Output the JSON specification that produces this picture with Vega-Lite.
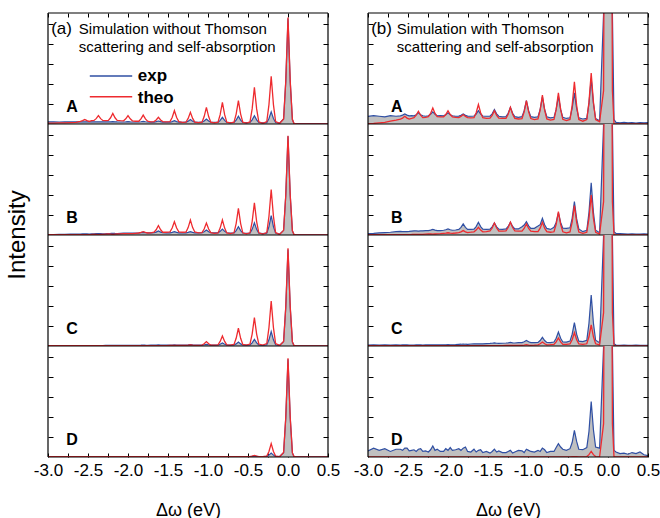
{
"$schema": "https://vega.github.io/schema/vega-lite/v6.json",
"padding": {"left": 5, "right": 0, "top": 12, "bottom": 0},
"bounds": "flush",
"config": {
  "font": "Liberation Sans",
  "view": {"stroke": null},
  "axis": {"domain": false, "tickColor": "#000", "labelColor": "#000", "titleColor": "#000", "grid": false, "offset": 0}
},
"datasets": {
"keys": [
 {"key": "aAe", "col": "a", "row": "A", "s": "exp"}, {"key": "aAt", "col": "a", "row": "A", "s": "theo"},
 {"key": "aBe", "col": "a", "row": "B", "s": "exp"}, {"key": "aBt", "col": "a", "row": "B", "s": "theo"},
 {"key": "aCe", "col": "a", "row": "C", "s": "exp"}, {"key": "aCt", "col": "a", "row": "C", "s": "theo"},
 {"key": "aDe", "col": "a", "row": "D", "s": "exp"}, {"key": "aDt", "col": "a", "row": "D", "s": "theo"},
 {"key": "bAe", "col": "b", "row": "A", "s": "exp"}, {"key": "bAt", "col": "b", "row": "A", "s": "theo"},
 {"key": "bBe", "col": "b", "row": "B", "s": "exp"}, {"key": "bBt", "col": "b", "row": "B", "s": "theo"},
 {"key": "bCe", "col": "b", "row": "C", "s": "exp"}, {"key": "bCt", "col": "b", "row": "C", "s": "theo"},
 {"key": "bDe", "col": "b", "row": "D", "s": "exp"}, {"key": "bDt", "col": "b", "row": "D", "s": "theo"}
],
"curves": [
{"x":0.5,"aAe":0.003,"aAt":0.002,"aBe":0.002,"aBt":0.002,"aCe":0.002,"aCt":0.002,"aDe":0.002,"aDt":0.002,"bAe":0.012,"bAt":0.002,"bBe":0.008,"bBt":0.002,"bCe":0.006,"bCt":0.002,"bDe":0.012,"bDt":0.002},
{"x":0.45,"aAe":0.003,"aAt":0.002,"aBe":0.002,"aBt":0.002,"aCe":0.002,"aCt":0.002,"aDe":0.002,"aDt":0.002,"bAe":0.01,"bAt":0.002,"bBe":0.01,"bBt":0.002,"bCe":0.005,"bCt":0.002,"bDe":0.02,"bDt":0.002},
{"x":0.4,"aAe":0.003,"aAt":0.002,"aBe":0.002,"aBt":0.002,"aCe":0.002,"aCt":0.002,"aDe":0.002,"aDt":0.002,"bAe":0.013,"bAt":0.002,"bBe":0.008,"bBt":0.002,"bCe":0.006,"bCt":0.002,"bDe":0.045,"bDt":0.002},
{"x":0.35,"aAe":0.003,"aAt":0.002,"aBe":0.002,"aBt":0.002,"aCe":0.002,"aCt":0.002,"aDe":0.002,"aDt":0.002,"bAe":0.009,"bAt":0.002,"bBe":0.009,"bBt":0.002,"bCe":0.007,"bCt":0.002,"bDe":0.03,"bDt":0.002},
{"x":0.3,"aAe":0.003,"aAt":0.002,"aBe":0.002,"aBt":0.002,"aCe":0.002,"aCt":0.002,"aDe":0.002,"aDt":0.002,"bAe":0.012,"bAt":0.002,"bBe":0.01,"bBt":0.002,"bCe":0.005,"bCt":0.002,"bDe":0.04,"bDt":0.002},
{"x":0.25,"aAe":0.003,"aAt":0.002,"aBe":0.002,"aBt":0.002,"aCe":0.002,"aCt":0.002,"aDe":0.002,"aDt":0.002,"bAe":0.01,"bAt":0.002,"bBe":0.008,"bBt":0.002,"bCe":0.006,"bCt":0.002,"bDe":0.025,"bDt":0.002},
{"x":0.2,"aAe":0.003,"aAt":0.002,"aBe":0.002,"aBt":0.002,"aCe":0.002,"aCt":0.002,"aDe":0.002,"aDt":0.002,"bAe":0.014,"bAt":0.002,"bBe":0.01,"bBt":0.002,"bCe":0.007,"bCt":0.002,"bDe":0.035,"bDt":0.002},
{"x":0.15,"aAe":0.003,"aAt":0.002,"aBe":0.002,"aBt":0.002,"aCe":0.002,"aCt":0.002,"aDe":0.002,"aDt":0.002,"bAe":0.011,"bAt":0.002,"bBe":0.012,"bBt":0.002,"bCe":0.006,"bCt":0.002,"bDe":0.03,"bDt":0.002},
{"x":0.1,"aAe":0.004,"aAt":0.003,"aBe":0.003,"aBt":0.003,"aCe":0.003,"aCt":0.003,"aDe":0.003,"aDt":0.003,"bAe":0.015,"bAt":0.002,"bBe":0.014,"bBt":0.002,"bCe":0.008,"bCt":0.002,"bDe":0.045,"bDt":0.002},
{"x":0.075,"aAe":0.005,"aAt":0.004,"aBe":0.004,"aBt":0.004,"aCe":0.004,"aCt":0.004,"aDe":0.004,"aDt":0.004,"bAe":0.04,"bAt":0.003,"bBe":0.03,"bBt":0.003,"bCe":0.02,"bCt":0.003,"bDe":0.06,"bDt":0.003},
{"x":0.055,"aAe":0.04,"aAt":0.04,"aBe":0.037,"aBt":0.038,"aCe":0.036,"aCt":0.037,"aDe":0.037,"aDt":0.037,"bAe":1.0,"bAt":0.3,"bBe":1.0,"bBt":0.3,"bCe":1.0,"bCt":0.3,"bDe":1.0,"bDt":0.3},
{"x":0.028,"aAe":0.38,"aAt":0.385,"aBe":0.356,"aBt":0.358,"aCe":0.348,"aCt":0.352,"aDe":0.352,"aDt":0.356,"bAe":10,"bAt":6,"bBe":10,"bBt":6,"bCe":10,"bCt":6,"bDe":10,"bDt":6},
{"x":0,"aAe":0.95,"aAt":0.96,"aBe":0.89,"aBt":0.895,"aCe":0.87,"aCt":0.88,"aDe":0.88,"aDt":0.89,"bAe":30,"bAt":30,"bBe":30,"bBt":30,"bCe":30,"bCt":30,"bDe":30,"bDt":30},
{"x":-0.028,"aAe":0.38,"aAt":0.385,"aBe":0.356,"aBt":0.358,"aCe":0.348,"aCt":0.352,"aDe":0.352,"aDt":0.356,"bAe":10,"bAt":6,"bBe":10,"bBt":6,"bCe":10,"bCt":6,"bDe":10,"bDt":6},
{"x":-0.055,"aAe":0.045,"aAt":0.045,"aBe":0.042,"aBt":0.042,"aCe":0.04,"aCt":0.04,"aDe":0.038,"aDt":0.04,"bAe":1.0,"bAt":0.3,"bBe":1.0,"bBt":0.3,"bCe":1.0,"bCt":0.3,"bDe":1.0,"bDt":0.3},
{"x":-0.105,"aAe":0.008,"aAt":0.005,"aBe":0.008,"aBt":0.005,"aCe":0.005,"aCt":0.005,"aDe":0.004,"aDt":0.003,"bAe":0.03,"bAt":0.02,"bBe":0.02,"bBt":0.008,"bCe":0.03,"bCt":0.01,"bDe":0.08,"bDt":0.002},
{"x":-0.155,"aAe":0.013,"aAt":0.022,"aBe":0.017,"aBt":0.022,"aCe":0.011,"aCt":0.022,"aDe":0.005,"aDt":0.008,"bAe":0.05,"bAt":0.04,"bBe":0.043,"bBt":0.024,"bCe":0.052,"bCt":0.02,"bDe":0.09,"bDt":0.004},
{"x":-0.182,"aAe":0.049,"aAt":0.175,"aBe":0.076,"aBt":0.168,"aCe":0.056,"aCt":0.166,"aDe":0.017,"aDt":0.05,"bAe":0.185,"bAt":0.197,"bBe":0.203,"bBt":0.15,"bCe":0.205,"bCt":0.083,"bDe":0.245,"bDt":0.021},
{"x":-0.21,"aAe":0.11,"aAt":0.43,"aBe":0.175,"aBt":0.41,"aCe":0.13,"aCt":0.405,"aDe":0.036,"aDt":0.12,"bAe":0.41,"bAt":0.46,"bBe":0.47,"bBt":0.36,"bCe":0.46,"bCt":0.19,"bDe":0.5,"bDt":0.05},
{"x":-0.238,"aAe":0.049,"aAt":0.175,"aBe":0.076,"aBt":0.168,"aCe":0.056,"aCt":0.166,"aDe":0.017,"aDt":0.05,"bAe":0.185,"bAt":0.197,"bBe":0.203,"bBt":0.15,"bCe":0.205,"bCt":0.083,"bDe":0.23,"bDt":0.021},
{"x":-0.265,"aAe":0.013,"aAt":0.022,"aBe":0.017,"aBt":0.022,"aCe":0.011,"aCt":0.022,"aDe":0.005,"aDt":0.008,"bAe":0.05,"bAt":0.04,"bBe":0.043,"bBt":0.024,"bCe":0.052,"bCt":0.02,"bDe":0.085,"bDt":0.004},
{"x":-0.315,"aAe":0.01,"aAt":0.005,"aBe":0.012,"aBt":0.008,"aCe":0.006,"aCt":0.008,"aDe":0.004,"aDt":0.003,"bAe":0.045,"bAt":0.025,"bBe":0.03,"bBt":0.015,"bCe":0.04,"bCt":0.015,"bDe":0.066,"bDt":0.002},
{"x":-0.365,"aAe":0.014,"aAt":0.019,"aBe":0.017,"aBt":0.02,"aCe":0.009,"aCt":0.018,"aDe":0.004,"aDt":0.004,"bAe":0.056,"bAt":0.041,"bBe":0.055,"bBt":0.027,"bCe":0.044,"bCt":0.019,"bDe":0.07,"bDt":0.002},
{"x":-0.392,"aAe":0.037,"aAt":0.136,"aBe":0.051,"aBt":0.121,"aCe":0.028,"aCt":0.107,"aDe":0.006,"aDt":0.008,"bAe":0.14,"bAt":0.168,"bBe":0.147,"bBt":0.116,"bCe":0.106,"bCt":0.057,"bDe":0.14,"bDt":0.003},
{"x":-0.42,"aAe":0.075,"aAt":0.33,"aBe":0.11,"aBt":0.29,"aCe":0.06,"aCt":0.255,"aDe":0.008,"aDt":0.015,"bAe":0.28,"bAt":0.38,"bBe":0.3,"bBt":0.265,"bCe":0.21,"bCt":0.12,"bDe":0.24,"bDt":0.003},
{"x":-0.448,"aAe":0.037,"aAt":0.136,"aBe":0.051,"aBt":0.121,"aCe":0.028,"aCt":0.107,"aDe":0.006,"aDt":0.008,"bAe":0.14,"bAt":0.168,"bBe":0.15,"bBt":0.116,"bCe":0.106,"bCt":0.057,"bDe":0.13,"bDt":0.003},
{"x":-0.475,"aAe":0.014,"aAt":0.019,"aBe":0.017,"aBt":0.02,"aCe":0.009,"aCt":0.018,"aDe":0.004,"aDt":0.004,"bAe":0.056,"bAt":0.041,"bBe":0.065,"bBt":0.027,"bCe":0.044,"bCt":0.019,"bDe":0.075,"bDt":0.002},
{"x":-0.52,"aAe":0.012,"aAt":0.008,"aBe":0.015,"aBt":0.01,"aCe":0.008,"aCt":0.008,"aDe":0.004,"aDt":0.003,"bAe":0.05,"bAt":0.03,"bBe":0.06,"bBt":0.02,"bCe":0.035,"bCt":0.015,"bDe":0.06,"bDt":0.002},
{"x":-0.565,"aAe":0.015,"aAt":0.017,"aBe":0.018,"aBt":0.02,"aCe":0.009,"aCt":0.014,"aDe":0.004,"aDt":0.003,"bAe":0.06,"bAt":0.042,"bBe":0.061,"bBt":0.029,"bCe":0.036,"bCt":0.015,"bDe":0.07,"bDt":0.002},
{"x":-0.592,"aAe":0.035,"aAt":0.089,"aBe":0.04,"aBt":0.103,"aCe":0.019,"aCt":0.069,"aDe":0.004,"aDt":0.003,"bAe":0.131,"bAt":0.131,"bBe":0.113,"bBt":0.097,"bCe":0.07,"bCt":0.037,"bDe":0.09,"bDt":0.002},
{"x":-0.62,"aAe":0.07,"aAt":0.21,"aBe":0.075,"aBt":0.24,"aCe":0.036,"aCt":0.16,"aDe":0.004,"aDt":0.003,"bAe":0.25,"bAt":0.28,"bBe":0.2,"bBt":0.21,"bCe":0.126,"bCt":0.072,"bDe":0.12,"bDt":0.002},
{"x":-0.648,"aAe":0.035,"aAt":0.089,"aBe":0.04,"aBt":0.103,"aCe":0.019,"aCt":0.069,"aDe":0.004,"aDt":0.003,"bAe":0.131,"bAt":0.131,"bBe":0.113,"bBt":0.097,"bCe":0.07,"bCt":0.037,"bDe":0.085,"bDt":0.002},
{"x":-0.675,"aAe":0.015,"aAt":0.017,"aBe":0.018,"aBt":0.02,"aCe":0.009,"aCt":0.014,"aDe":0.004,"aDt":0.003,"bAe":0.06,"bAt":0.042,"bBe":0.07,"bBt":0.029,"bCe":0.036,"bCt":0.015,"bDe":0.05,"bDt":0.002},
{"x":-0.72,"aAe":0.013,"aAt":0.01,"aBe":0.018,"aBt":0.012,"aCe":0.008,"aCt":0.008,"aDe":0.004,"aDt":0.003,"bAe":0.055,"bAt":0.035,"bBe":0.05,"bBt":0.025,"bCe":0.03,"bCt":0.012,"bDe":0.05,"bDt":0.002},
{"x":-0.765,"aAe":0.015,"aAt":0.017,"aBe":0.02,"aBt":0.018,"aCe":0.009,"aCt":0.011,"aDe":0.004,"aDt":0.003,"bAe":0.065,"bAt":0.046,"bBe":0.059,"bBt":0.031,"bCe":0.032,"bCt":0.011,"bDe":0.04,"bDt":0.002},
{"x":-0.792,"aAe":0.032,"aAt":0.084,"aBe":0.033,"aBt":0.062,"aCe":0.016,"aCt":0.041,"aDe":0.004,"aDt":0.003,"bAe":0.132,"bAt":0.126,"bBe":0.093,"bBt":0.062,"bCe":0.049,"bCt":0.02,"bDe":0.065,"bDt":0.002},
{"x":-0.82,"aAe":0.06,"aAt":0.195,"aBe":0.054,"aBt":0.135,"aCe":0.027,"aCt":0.09,"aDe":0.004,"aDt":0.003,"bAe":0.245,"bAt":0.26,"bBe":0.15,"bBt":0.115,"bCe":0.078,"bCt":0.036,"bDe":0.08,"bDt":0.002},
{"x":-0.848,"aAe":0.032,"aAt":0.084,"aBe":0.033,"aBt":0.062,"aCe":0.016,"aCt":0.041,"aDe":0.004,"aDt":0.003,"bAe":0.132,"bAt":0.126,"bBe":0.093,"bBt":0.062,"bCe":0.049,"bCt":0.02,"bDe":0.05,"bDt":0.002},
{"x":-0.875,"aAe":0.015,"aAt":0.017,"aBe":0.02,"aBt":0.018,"aCe":0.009,"aCt":0.011,"aDe":0.004,"aDt":0.003,"bAe":0.065,"bAt":0.046,"bBe":0.08,"bBt":0.031,"bCe":0.032,"bCt":0.011,"bDe":0.06,"bDt":0.002},
{"x":-0.92,"aAe":0.014,"aAt":0.01,"aBe":0.02,"aBt":0.015,"aCe":0.008,"aCt":0.008,"aDe":0.004,"aDt":0.003,"bAe":0.06,"bAt":0.04,"bBe":0.06,"bBt":0.03,"bCe":0.03,"bCt":0.008,"bDe":0.045,"bDt":0.002},
{"x":-0.965,"aAe":0.016,"aAt":0.017,"aBe":0.021,"aBt":0.021,"aCe":0.008,"aCt":0.008,"aDe":0.004,"aDt":0.003,"bAe":0.066,"bAt":0.049,"bBe":0.06,"bBt":0.035,"bCe":0.031,"bCt":0.006,"bDe":0.05,"bDt":0.002},
{"x":-0.992,"aAe":0.027,"aAt":0.067,"aBe":0.03,"aBt":0.054,"aCe":0.011,"aCt":0.02,"aDe":0.004,"aDt":0.003,"bAe":0.12,"bAt":0.109,"bBe":0.082,"bBt":0.059,"bCe":0.038,"bCt":0.008,"bDe":0.06,"bDt":0.002},
{"x":-1.02,"aAe":0.045,"aAt":0.15,"aBe":0.045,"aBt":0.108,"aCe":0.015,"aCt":0.04,"aDe":0.004,"aDt":0.003,"bAe":0.21,"bAt":0.21,"bBe":0.12,"bBt":0.1,"bCe":0.05,"bCt":0.012,"bDe":0.07,"bDt":0.002},
{"x":-1.048,"aAe":0.027,"aAt":0.067,"aBe":0.03,"aBt":0.054,"aCe":0.011,"aCt":0.02,"aDe":0.004,"aDt":0.003,"bAe":0.12,"bAt":0.109,"bBe":0.09,"bBt":0.059,"bCe":0.038,"bCt":0.008,"bDe":0.04,"bDt":0.002},
{"x":-1.075,"aAe":0.016,"aAt":0.017,"aBe":0.021,"aBt":0.021,"aCe":0.008,"aCt":0.008,"aDe":0.004,"aDt":0.003,"bAe":0.066,"bAt":0.049,"bBe":0.075,"bBt":0.035,"bCe":0.031,"bCt":0.006,"bDe":0.055,"bDt":0.002},
{"x":-1.12,"aAe":0.015,"aAt":0.012,"aBe":0.02,"aBt":0.02,"aCe":0.008,"aCt":0.006,"aDe":0.004,"aDt":0.003,"bAe":0.06,"bAt":0.045,"bBe":0.055,"bBt":0.035,"bCe":0.03,"bCt":0.005,"bDe":0.06,"bDt":0.002},
{"x":-1.165,"aAe":0.016,"aAt":0.017,"aBe":0.02,"aBt":0.027,"aCe":0.008,"aCt":0.006,"aDe":0.004,"aDt":0.003,"bAe":0.066,"bAt":0.051,"bBe":0.055,"bBt":0.038,"bCe":0.027,"bCt":0.0045,"bDe":0.045,"bDt":0.002},
{"x":-1.192,"aAe":0.025,"aAt":0.05,"aBe":0.024,"aBt":0.067,"aCe":0.0096,"aCt":0.007,"aDe":0.004,"aDt":0.003,"bAe":0.097,"bAt":0.088,"bBe":0.077,"bBt":0.067,"bCe":0.029,"bCt":0.0047,"bDe":0.035,"bDt":0.002},
{"x":-1.22,"aAe":0.04,"aAt":0.105,"aBe":0.03,"aBt":0.135,"aCe":0.012,"aCt":0.01,"aDe":0.004,"aDt":0.003,"bAe":0.15,"bAt":0.15,"bBe":0.115,"bBt":0.115,"bCe":0.032,"bCt":0.005,"bDe":0.06,"bDt":0.002},
{"x":-1.248,"aAe":0.025,"aAt":0.05,"aBe":0.024,"aBt":0.067,"aCe":0.0096,"aCt":0.007,"aDe":0.004,"aDt":0.003,"bAe":0.097,"bAt":0.088,"bBe":0.077,"bBt":0.067,"bCe":0.029,"bCt":0.0047,"bDe":0.05,"bDt":0.002},
{"x":-1.275,"aAe":0.016,"aAt":0.017,"aBe":0.02,"aBt":0.027,"aCe":0.008,"aCt":0.006,"aDe":0.004,"aDt":0.003,"bAe":0.066,"bAt":0.051,"bBe":0.055,"bBt":0.038,"bCe":0.027,"bCt":0.0045,"bDe":0.04,"bDt":0.002},
{"x":-1.32,"aAe":0.015,"aAt":0.015,"aBe":0.02,"aBt":0.025,"aCe":0.008,"aCt":0.005,"aDe":0.004,"aDt":0.003,"bAe":0.065,"bAt":0.05,"bBe":0.05,"bBt":0.035,"bCe":0.025,"bCt":0.004,"bDe":0.04,"bDt":0.002},
{"x":-1.365,"aAe":0.016,"aAt":0.022,"aBe":0.02,"aBt":0.029,"aCe":0.008,"aCt":0.0045,"aDe":0.004,"aDt":0.003,"bAe":0.07,"bAt":0.053,"bBe":0.052,"bBt":0.036,"bCe":0.023,"bCt":0.003,"bDe":0.055,"bDt":0.002},
{"x":-1.392,"aAe":0.021,"aAt":0.058,"aBe":0.024,"aBt":0.063,"aCe":0.009,"aCt":0.0047,"aDe":0.004,"aDt":0.003,"bAe":0.092,"bAt":0.078,"bBe":0.073,"bBt":0.063,"bCe":0.025,"bCt":0.003,"bDe":0.045,"bDt":0.002},
{"x":-1.42,"aAe":0.03,"aAt":0.12,"aBe":0.03,"aBt":0.12,"aCe":0.01,"aCt":0.005,"aDe":0.004,"aDt":0.003,"bAe":0.13,"bAt":0.12,"bBe":0.108,"bBt":0.108,"bCe":0.028,"bCt":0.003,"bDe":0.07,"bDt":0.002},
{"x":-1.448,"aAe":0.021,"aAt":0.058,"aBe":0.024,"aBt":0.063,"aCe":0.009,"aCt":0.0047,"aDe":0.004,"aDt":0.003,"bAe":0.092,"bAt":0.078,"bBe":0.073,"bBt":0.063,"bCe":0.025,"bCt":0.003,"bDe":0.05,"bDt":0.002},
{"x":-1.475,"aAe":0.016,"aAt":0.022,"aBe":0.02,"aBt":0.029,"aCe":0.008,"aCt":0.0045,"aDe":0.004,"aDt":0.003,"bAe":0.07,"bAt":0.053,"bBe":0.052,"bBt":0.036,"bCe":0.023,"bCt":0.003,"bDe":0.035,"bDt":0.002},
{"x":-1.52,"aAe":0.016,"aAt":0.02,"aBe":0.02,"aBt":0.025,"aCe":0.008,"aCt":0.004,"aDe":0.004,"aDt":0.003,"bAe":0.07,"bAt":0.05,"bBe":0.05,"bBt":0.03,"bCe":0.022,"bCt":0.003,"bDe":0.05,"bDt":0.002},
{"x":-1.565,"aAe":0.017,"aAt":0.022,"aBe":0.021,"aBt":0.025,"aCe":0.0075,"aCt":0.004,"aDe":0.004,"aDt":0.003,"bAe":0.072,"bAt":0.057,"bBe":0.053,"bBt":0.029,"bCe":0.02,"bCt":0.003,"bDe":0.04,"bDt":0.002},
{"x":-1.592,"aAe":0.021,"aAt":0.036,"aBe":0.026,"aBt":0.047,"aCe":0.0085,"aCt":0.004,"aDe":0.004,"aDt":0.003,"bAe":0.09,"bAt":0.101,"bBe":0.076,"bBt":0.044,"bCe":0.02,"bCt":0.003,"bDe":0.065,"bDt":0.002},
{"x":-1.62,"aAe":0.027,"aAt":0.06,"aBe":0.036,"aBt":0.085,"aCe":0.01,"aCt":0.004,"aDe":0.004,"aDt":0.003,"bAe":0.12,"bAt":0.175,"bBe":0.115,"bBt":0.07,"bCe":0.02,"bCt":0.003,"bDe":0.06,"bDt":0.002},
{"x":-1.648,"aAe":0.021,"aAt":0.036,"aBe":0.026,"aBt":0.047,"aCe":0.0085,"aCt":0.004,"aDe":0.004,"aDt":0.003,"bAe":0.09,"bAt":0.101,"bBe":0.076,"bBt":0.044,"bCe":0.02,"bCt":0.003,"bDe":0.045,"bDt":0.002},
{"x":-1.675,"aAe":0.017,"aAt":0.022,"aBe":0.021,"aBt":0.025,"aCe":0.0075,"aCt":0.004,"aDe":0.004,"aDt":0.003,"bAe":0.072,"bAt":0.057,"bBe":0.053,"bBt":0.029,"bCe":0.02,"bCt":0.003,"bDe":0.07,"bDt":0.002},
{"x":-1.715,"aAe":0.017,"aAt":0.02,"aBe":0.02,"aBt":0.02,"aCe":0.007,"aCt":0.004,"aDe":0.004,"aDt":0.003,"bAe":0.07,"bAt":0.055,"bBe":0.05,"bBt":0.025,"bCe":0.018,"bCt":0.003,"bDe":0.045,"bDt":0.002},
{"x":-1.755,"aAe":0.018,"aAt":0.025,"aBe":0.019,"aBt":0.018,"aCe":0.0066,"aCt":0.003,"aDe":0.004,"aDt":0.003,"bAe":0.071,"bAt":0.058,"bBe":0.05,"bBt":0.022,"bCe":0.015,"bCt":0.003,"bDe":0.05,"bDt":0.002},
{"x":-1.782,"aAe":0.02,"aAt":0.046,"aBe":0.021,"aBt":0.023,"aCe":0.007,"aCt":0.003,"aDe":0.004,"aDt":0.003,"bAe":0.078,"bAt":0.068,"bBe":0.069,"bBt":0.029,"bCe":0.016,"bCt":0.003,"bDe":0.09,"bDt":0.002},
{"x":-1.81,"aAe":0.024,"aAt":0.08,"aBe":0.024,"aBt":0.03,"aCe":0.008,"aCt":0.003,"aDe":0.004,"aDt":0.003,"bAe":0.09,"bAt":0.085,"bBe":0.1,"bBt":0.04,"bCe":0.018,"bCt":0.003,"bDe":0.08,"bDt":0.002},
{"x":-1.838,"aAe":0.02,"aAt":0.046,"aBe":0.021,"aBt":0.023,"aCe":0.007,"aCt":0.003,"aDe":0.004,"aDt":0.003,"bAe":0.078,"bAt":0.068,"bBe":0.069,"bBt":0.029,"bCe":0.016,"bCt":0.003,"bDe":0.06,"bDt":0.002},
{"x":-1.865,"aAe":0.018,"aAt":0.025,"aBe":0.019,"aBt":0.018,"aCe":0.0066,"aCt":0.003,"aDe":0.004,"aDt":0.003,"bAe":0.071,"bAt":0.058,"bBe":0.05,"bBt":0.022,"bCe":0.015,"bCt":0.003,"bDe":0.075,"bDt":0.002},
{"x":-1.905,"aAe":0.018,"aAt":0.025,"aBe":0.018,"aBt":0.015,"aCe":0.006,"aCt":0.003,"aDe":0.004,"aDt":0.003,"bAe":0.07,"bAt":0.06,"bBe":0.045,"bBt":0.018,"bCe":0.012,"bCt":0.003,"bDe":0.065,"bDt":0.002},
{"x":-1.945,"aAe":0.018,"aAt":0.029,"aBe":0.0166,"aBt":0.0125,"aCe":0.0055,"aCt":0.003,"aDe":0.004,"aDt":0.003,"bAe":0.074,"bAt":0.065,"bBe":0.043,"bBt":0.015,"bCe":0.011,"bCt":0.003,"bDe":0.06,"bDt":0.002},
{"x":-1.972,"aAe":0.0196,"aAt":0.0465,"aBe":0.017,"aBt":0.0123,"aCe":0.0057,"aCt":0.003,"aDe":0.004,"aDt":0.003,"bAe":0.083,"bAt":0.085,"bBe":0.047,"bBt":0.017,"bCe":0.0114,"bCt":0.003,"bDe":0.085,"bDt":0.002},
{"x":-2.0,"aAe":0.022,"aAt":0.075,"aBe":0.018,"aBt":0.012,"aCe":0.006,"aCt":0.003,"aDe":0.004,"aDt":0.003,"bAe":0.1,"bAt":0.12,"bBe":0.055,"bBt":0.02,"bCe":0.012,"bCt":0.003,"bDe":0.06,"bDt":0.002},
{"x":-2.028,"aAe":0.0196,"aAt":0.0465,"aBe":0.017,"aBt":0.0123,"aCe":0.0057,"aCt":0.003,"aDe":0.004,"aDt":0.003,"bAe":0.083,"bAt":0.085,"bBe":0.047,"bBt":0.017,"bCe":0.0114,"bCt":0.003,"bDe":0.075,"bDt":0.002},
{"x":-2.055,"aAe":0.018,"aAt":0.029,"aBe":0.0166,"aBt":0.0125,"aCe":0.0055,"aCt":0.003,"aDe":0.004,"aDt":0.003,"bAe":0.074,"bAt":0.065,"bBe":0.043,"bBt":0.015,"bCe":0.011,"bCt":0.003,"bDe":0.05,"bDt":0.002},
{"x":-2.095,"aAe":0.018,"aAt":0.03,"aBe":0.015,"aBt":0.01,"aCe":0.005,"aCt":0.003,"aDe":0.004,"aDt":0.003,"bAe":0.075,"bAt":0.065,"bBe":0.04,"bBt":0.012,"bCe":0.01,"bCt":0.003,"bDe":0.05,"bDt":0.002},
{"x":-2.135,"aAe":0.0186,"aAt":0.033,"aBe":0.0136,"aBt":0.009,"aCe":0.005,"aCt":0.003,"aDe":0.004,"aDt":0.003,"bAe":0.074,"bAt":0.066,"bBe":0.04,"bBt":0.01,"bCe":0.01,"bCt":0.003,"bDe":0.07,"bDt":0.002},
{"x":-2.162,"aAe":0.02,"aAt":0.056,"aBe":0.014,"aBt":0.0074,"aCe":0.005,"aCt":0.003,"aDe":0.004,"aDt":0.003,"bAe":0.0875,"bAt":0.0955,"bBe":0.044,"bBt":0.009,"bCe":0.01,"bCt":0.003,"bDe":0.06,"bDt":0.002},
{"x":-2.19,"aAe":0.022,"aAt":0.096,"aBe":0.015,"aBt":0.005,"aCe":0.005,"aCt":0.003,"aDe":0.004,"aDt":0.003,"bAe":0.11,"bAt":0.145,"bBe":0.05,"bBt":0.008,"bCe":0.01,"bCt":0.003,"bDe":0.1,"bDt":0.002},
{"x":-2.218,"aAe":0.02,"aAt":0.056,"aBe":0.014,"aBt":0.0074,"aCe":0.005,"aCt":0.003,"aDe":0.004,"aDt":0.003,"bAe":0.0875,"bAt":0.0955,"bBe":0.044,"bBt":0.009,"bCe":0.01,"bCt":0.003,"bDe":0.065,"bDt":0.002},
{"x":-2.245,"aAe":0.0186,"aAt":0.033,"aBe":0.0136,"aBt":0.009,"aCe":0.005,"aCt":0.003,"aDe":0.004,"aDt":0.003,"bAe":0.074,"bAt":0.066,"bBe":0.04,"bBt":0.01,"bCe":0.01,"bCt":0.003,"bDe":0.045,"bDt":0.002},
{"x":-2.28,"aAe":0.019,"aAt":0.03,"aBe":0.012,"aBt":0.008,"aCe":0.005,"aCt":0.003,"aDe":0.004,"aDt":0.003,"bAe":0.07,"bAt":0.06,"bBe":0.04,"bBt":0.008,"bCe":0.01,"bCt":0.003,"bDe":0.055,"bDt":0.002},
{"x":-2.315,"aAe":0.0195,"aAt":0.032,"aBe":0.011,"aBt":0.0065,"aCe":0.004,"aCt":0.003,"aDe":0.004,"aDt":0.003,"bAe":0.074,"bAt":0.057,"bBe":0.0375,"bBt":0.0065,"bCe":0.009,"bCt":0.003,"bDe":0.05,"bDt":0.002},
{"x":-2.342,"aAe":0.02,"aAt":0.048,"aBe":0.0115,"aBt":0.0055,"aCe":0.004,"aCt":0.003,"aDe":0.004,"aDt":0.003,"bAe":0.083,"bAt":0.079,"bBe":0.0365,"bBt":0.006,"bCe":0.0094,"bCt":0.003,"bDe":0.075,"bDt":0.002},
{"x":-2.37,"aAe":0.02,"aAt":0.075,"aBe":0.012,"aBt":0.004,"aCe":0.004,"aCt":0.003,"aDe":0.004,"aDt":0.003,"bAe":0.1,"bAt":0.115,"bBe":0.035,"bBt":0.005,"bCe":0.01,"bCt":0.003,"bDe":0.07,"bDt":0.002},
{"x":-2.398,"aAe":0.02,"aAt":0.048,"aBe":0.0115,"aBt":0.0055,"aCe":0.004,"aCt":0.003,"aDe":0.004,"aDt":0.003,"bAe":0.083,"bAt":0.079,"bBe":0.0365,"bBt":0.006,"bCe":0.0094,"bCt":0.003,"bDe":0.05,"bDt":0.002},
{"x":-2.425,"aAe":0.0195,"aAt":0.032,"aBe":0.011,"aBt":0.0065,"aCe":0.004,"aCt":0.003,"aDe":0.004,"aDt":0.003,"bAe":0.074,"bAt":0.057,"bBe":0.0375,"bBt":0.0065,"bCe":0.009,"bCt":0.003,"bDe":0.065,"bDt":0.002},
{"x":-2.455,"aAe":0.02,"aAt":0.03,"aBe":0.01,"aBt":0.005,"aCe":0.004,"aCt":0.003,"aDe":0.004,"aDt":0.003,"bAe":0.075,"bAt":0.05,"bBe":0.035,"bBt":0.005,"bCe":0.008,"bCt":0.003,"bDe":0.06,"bDt":0.002},
{"x":-2.485,"aAe":0.02,"aAt":0.023,"aBe":0.009,"aBt":0.004,"aCe":0.004,"aCt":0.003,"aDe":0.004,"aDt":0.003,"bAe":0.073,"bAt":0.044,"bBe":0.032,"bBt":0.004,"bCe":0.009,"bCt":0.003,"bDe":0.055,"bDt":0.002},
{"x":-2.512,"aAe":0.02,"aAt":0.03,"aBe":0.0095,"aBt":0.0035,"aCe":0.004,"aCt":0.003,"aDe":0.004,"aDt":0.003,"bAe":0.08,"bAt":0.053,"bBe":0.031,"bBt":0.004,"bCe":0.0095,"bCt":0.003,"bDe":0.08,"bDt":0.002},
{"x":-2.54,"aAe":0.02,"aAt":0.04,"aBe":0.01,"aBt":0.003,"aCe":0.004,"aCt":0.003,"aDe":0.004,"aDt":0.003,"bAe":0.09,"bAt":0.07,"bBe":0.03,"bBt":0.004,"bCe":0.01,"bCt":0.003,"bDe":0.08,"bDt":0.002},
{"x":-2.568,"aAe":0.02,"aAt":0.03,"aBe":0.0095,"aBt":0.003,"aCe":0.004,"aCt":0.003,"aDe":0.004,"aDt":0.003,"bAe":0.08,"bAt":0.053,"bBe":0.031,"bBt":0.004,"bCe":0.0095,"bCt":0.003,"bDe":0.06,"bDt":0.002},
{"x":-2.595,"aAe":0.02,"aAt":0.023,"aBe":0.009,"aBt":0.003,"aCe":0.004,"aCt":0.003,"aDe":0.004,"aDt":0.003,"bAe":0.073,"bAt":0.044,"bBe":0.032,"bBt":0.004,"bCe":0.009,"bCt":0.003,"bDe":0.07,"bDt":0.002},
{"x":-2.65,"aAe":0.02,"aAt":0.015,"aBe":0.008,"aBt":0.003,"aCe":0.004,"aCt":0.003,"aDe":0.004,"aDt":0.003,"bAe":0.07,"bAt":0.035,"bBe":0.03,"bBt":0.004,"bCe":0.01,"bCt":0.003,"bDe":0.07,"bDt":0.002},
{"x":-2.72,"aAe":0.019,"aAt":0.012,"aBe":0.007,"aBt":0.003,"aCe":0.004,"aCt":0.003,"aDe":0.004,"aDt":0.003,"bAe":0.075,"bAt":0.025,"bBe":0.025,"bBt":0.003,"bCe":0.008,"bCt":0.003,"bDe":0.05,"bDt":0.002},
{"x":-2.79,"aAe":0.02,"aAt":0.01,"aBe":0.006,"aBt":0.003,"aCe":0.004,"aCt":0.003,"aDe":0.004,"aDt":0.003,"bAe":0.065,"bAt":0.015,"bBe":0.022,"bBt":0.003,"bCe":0.01,"bCt":0.003,"bDe":0.075,"bDt":0.002},
{"x":-2.86,"aAe":0.018,"aAt":0.01,"aBe":0.005,"aBt":0.003,"aCe":0.004,"aCt":0.003,"aDe":0.004,"aDt":0.003,"bAe":0.07,"bAt":0.01,"bBe":0.02,"bBt":0.003,"bCe":0.008,"bCt":0.003,"bDe":0.06,"bDt":0.002},
{"x":-2.93,"aAe":0.02,"aAt":0.008,"aBe":0.004,"aBt":0.003,"aCe":0.004,"aCt":0.003,"aDe":0.004,"aDt":0.003,"bAe":0.075,"bAt":0.005,"bBe":0.015,"bBt":0.003,"bCe":0.01,"bCt":0.003,"bDe":0.08,"bDt":0.002},
{"x":-3.0,"aAe":0.02,"aAt":0.008,"aBe":0.003,"aBt":0.003,"aCe":0.004,"aCt":0.003,"aDe":0.004,"aDt":0.003,"bAe":0.068,"bAt":0.003,"bBe":0.012,"bBt":0.003,"bCe":0.008,"bCt":0.003,"bDe":0.055,"bDt":0.002}
]
},
"data": {"name": "curves"},
"transform": [
  {"fold": ["aAe","aAt","aBe","aBt","aCe","aCt","aDe","aDt","bAe","bAt","bBe","bBt","bCe","bCt","bDe","bDt"], "as": ["key", "value"]},
  {"lookup": "key", "from": {"data": {"name": "keys"}, "key": "key", "fields": ["col", "row", "s"]}}
],
"facet": {
  "column": {"field": "col", "type": "nominal", "header": {"title": null, "labels": false}},
  "row": {"field": "row", "type": "nominal", "header": {"title": "Intensity", "labels": false, "titleFontSize": 24, "titleFontWeight": "normal", "titleColor": "#000", "titleFont": "Liberation Sans", "titlePadding": 8}}
},
"spacing": {"row": 0, "column": 40},
"resolve": {"axis": {"y": "independent"}},
"spec": {
  "width": 280,
  "height": 111,
  "resolve": {"axis": {"x": "independent", "y": "independent"}},
  "layer": [
    {
      "transform": [{"filter": "datum.s == 'exp'"}],
      "mark": {"type": "area", "color": "#c0c0c0", "clip": true},
      "encoding": {
        "x": {"field": "x", "type": "quantitative", "scale": {"domain": [-3, 0.5], "nice": false, "zero": false},
              "axis": {"orient": "bottom", "values": [-3,-2.75,-2.5,-2.25,-2,-1.75,-1.5,-1.25,-1,-0.75,-0.5,-0.25,0,0.25,0.5],
                       "labelExpr": "datum.value % 0.5 == 0 ? replace(format(datum.value, '.1f'), '−', '-') : ''",
                       "tickSize": -4, "labelFontSize": 17, "labelPadding": 9, "labelFlush": false, "labelOverlap": false, "domain": false,
                       "title": "Δω (eV)", "titleFontSize": 18, "titleFontWeight": "normal", "titlePadding": 23}},
        "y": {"field": "value", "type": "quantitative", "scale": {"domain": [0, 1], "nice": false, "zero": false},
              "axis": {"orient": "left", "values": [0.18, 0.36, 0.54, 0.72, 0.9], "labels": false, "title": null, "tickSize": -5, "domain": false}}
      }
    },
    {
      "transform": [{"filter": "datum.s == 'exp'"}],
      "mark": {"type": "line", "strokeWidth": 1.2, "clip": true, "color": "#2f4fa3"},
      "encoding": {
        "x": {"field": "x", "type": "quantitative", "axis": null},
        "y": {"field": "value", "type": "quantitative", "axis": null}
      }
    },
    {
      "transform": [{"filter": "datum.s == 'theo'"}],
      "mark": {"type": "line", "strokeWidth": 1.3, "clip": true, "color": "#ee2b2f"},
      "encoding": {
        "x": {"field": "x", "type": "quantitative",
              "axis": {"orient": "top", "values": [-3,-2.75,-2.5,-2.25,-2,-1.75,-1.5,-1.25,-1,-0.75,-0.5,-0.25,0,0.25,0.5], "labels": false, "title": null, "tickSize": -4, "domain": false}},
        "y": {"field": "value", "type": "quantitative",
              "axis": {"orient": "right", "values": [0.18, 0.36, 0.54, 0.72, 0.9], "labels": false, "title": null, "tickSize": -5, "domain": false}}
      }
    },
    {
      "transform": [{"filter": "datum.s == 'exp' && datum.x == -3"}],
      "mark": {"type": "rule", "color": "#000", "strokeWidth": 1.2},
      "encoding": {"x": {"datum": -3, "axis": null}, "y": {"datum": 0, "axis": null}, "y2": {"datum": 1}}
    },
    {
      "transform": [{"filter": "datum.s == 'exp' && datum.x == -3"}],
      "mark": {"type": "rule", "color": "#000", "strokeWidth": 1.2},
      "encoding": {"x": {"datum": 0.5, "axis": null}, "y": {"datum": 0, "axis": null}, "y2": {"datum": 1}}
    },
    {
      "transform": [{"filter": "datum.s == 'exp' && datum.x == -3"}],
      "mark": {"type": "rule", "color": "#000", "strokeWidth": 1.2},
      "encoding": {"x": {"datum": -3, "axis": null}, "x2": {"datum": 0.5}, "y": {"datum": 0, "axis": null}}
    },
    {
      "transform": [{"filter": "datum.s == 'exp' && datum.row == 'A' && datum.x == -3"}],
      "mark": {"type": "rule", "color": "#000", "strokeWidth": 1.2},
      "encoding": {"x": {"datum": -3, "axis": null}, "x2": {"datum": 0.5}, "y": {"datum": 1, "axis": null}}
    },
    {
      "transform": [{"filter": "datum.s == 'exp' && datum.col == 'a' && datum.x == -3"}],
      "mark": {"type": "text", "fontSize": 16, "fontWeight": "bold", "align": "center", "baseline": "middle", "color": "#000"},
      "encoding": {"x": {"datum": -2.7, "axis": null}, "y": {"datum": 0.15, "axis": null}, "text": {"field": "row"}}
    },
    {
      "transform": [{"filter": "datum.s == 'exp' && datum.col == 'b' && datum.x == -3"}],
      "mark": {"type": "text", "fontSize": 16, "fontWeight": "bold", "align": "center", "baseline": "middle", "color": "#000"},
      "encoding": {"x": {"datum": -2.64, "axis": null}, "y": {"datum": 0.155, "axis": null}, "text": {"field": "row"}}
    },
    {
      "transform": [{"filter": "datum.key == 'aAe' && datum.x == -3"}],
      "mark": {"type": "text", "fontSize": 17, "align": "left", "baseline": "alphabetic", "color": "#000"},
      "encoding": {"x": {"datum": -2.96, "axis": null}, "y": {"datum": 0.815, "axis": null}, "text": {"value": "(a)"}}
    },
    {
      "transform": [{"filter": "datum.key == 'aAe' && datum.x == -3"}],
      "mark": {"type": "text", "fontSize": 15, "align": "left", "baseline": "alphabetic", "lineHeight": 18.5, "color": "#000"},
      "encoding": {"x": {"datum": -2.615, "axis": null}, "y": {"datum": 0.815, "axis": null}, "text": {"value": ["Simulation without Thomson", "scattering and self-absorption"]}}
    },
    {
      "transform": [{"filter": "datum.key == 'bAe' && datum.x == -3"}],
      "mark": {"type": "text", "fontSize": 17, "align": "left", "baseline": "alphabetic", "color": "#000"},
      "encoding": {"x": {"datum": -2.96, "axis": null}, "y": {"datum": 0.815, "axis": null}, "text": {"value": "(b)"}}
    },
    {
      "transform": [{"filter": "datum.key == 'bAe' && datum.x == -3"}],
      "mark": {"type": "text", "fontSize": 15, "align": "left", "baseline": "alphabetic", "lineHeight": 18.5, "color": "#000"},
      "encoding": {"x": {"datum": -2.64, "axis": null}, "y": {"datum": 0.815, "axis": null}, "text": {"value": ["Simulation with Thomson", "scattering and self-absorption"]}}
    },
    {
      "transform": [{"filter": "datum.key == 'aAe' && datum.x == -3"}],
      "mark": {"type": "rule", "color": "#2f4fa3", "strokeWidth": 1.5},
      "encoding": {"x": {"datum": -2.4775, "axis": null}, "x2": {"datum": -1.9475}, "y": {"datum": 0.432, "axis": null}}
    },
    {
      "transform": [{"filter": "datum.key == 'aAe' && datum.x == -3"}],
      "mark": {"type": "rule", "color": "#ee2b2f", "strokeWidth": 1.5},
      "encoding": {"x": {"datum": -2.4775, "axis": null}, "x2": {"datum": -1.9475}, "y": {"datum": 0.246, "axis": null}}
    },
    {
      "transform": [{"filter": "datum.key == 'aAe' && datum.x == -3"}],
      "mark": {"type": "text", "fontSize": 17, "fontWeight": "bold", "align": "left", "baseline": "alphabetic", "color": "#000"},
      "encoding": {"x": {"datum": -1.8775, "axis": null}, "y": {"datum": 0.387, "axis": null}, "text": {"value": "exp"}}
    },
    {
      "transform": [{"filter": "datum.key == 'aAe' && datum.x == -3"}],
      "mark": {"type": "text", "fontSize": 17, "fontWeight": "bold", "align": "left", "baseline": "alphabetic", "color": "#000"},
      "encoding": {"x": {"datum": -1.8775, "axis": null}, "y": {"datum": 0.192, "axis": null}, "text": {"value": "theo"}}
    }
  ]
}
}
